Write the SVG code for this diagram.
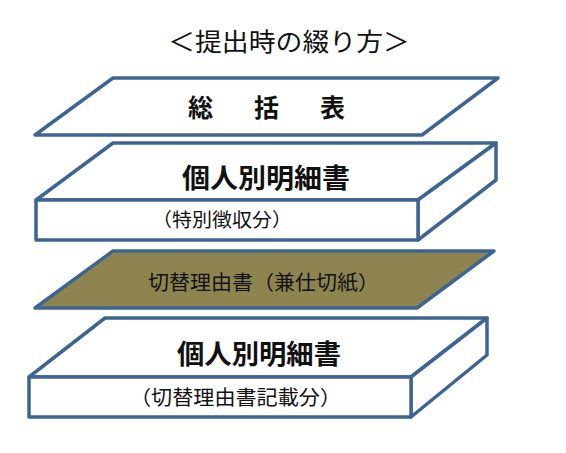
<svg xmlns="http://www.w3.org/2000/svg" width="566" height="453" viewBox="0 0 566 453">
<style>
.s{fill:#ffffff;stroke:#3E6592;stroke-width:3.5;stroke-linejoin:round}
.o{fill:#8E8450;stroke:#3E6592;stroke-width:3.5;stroke-linejoin:round}
text{font-family:"Noto Sans CJK JP","Noto Sans CJK SC",sans-serif;fill:#111111;text-anchor:middle}
.b{font-weight:bold}
</style>
<rect width="566" height="453" fill="#ffffff"/>
<g id="title">
<text x="289" y="51" font-size="25" textLength="242" lengthAdjust="spacingAndGlyphs">＜提出時の綴り方＞</text>
</g>
<g id="summary">
<polygon class="s" points="113,78 498,78 422,135 35,135"/>
<text class="b" x="266.5" y="117" font-size="25" textLength="157" lengthAdjust="spacing">総　括　表</text>
</g>
<g id="detail1">
<polygon class="s" points="113,143 496,143 418,200 36,200"/>
<polygon class="s" points="418,200 496,143 496,180 418,240"/>
<rect class="s" x="36" y="200" width="382" height="40"/>
<text class="b" x="266" y="188" font-size="27" textLength="168" lengthAdjust="spacingAndGlyphs">個人別明細書</text>
<text x="222" y="227" font-size="19" textLength="140" lengthAdjust="spacingAndGlyphs">（特別徴収分）</text>
</g>
<g id="divider">
<polygon class="o" points="113,251 494,251 417,308 35,308"/>
<text x="263.5" y="289.5" font-size="20" textLength="231" lengthAdjust="spacingAndGlyphs">切替理由書（兼仕切紙）</text>
</g>
<g id="detail2">
<polygon class="s" points="105,318 487,318 411,377 29,377"/>
<polygon class="s" points="411,377 487,318 487,355 411,417"/>
<rect class="s" x="29" y="377" width="382" height="40"/>
<text class="b" x="259" y="364" font-size="27" textLength="164" lengthAdjust="spacingAndGlyphs">個人別明細書</text>
<text x="235.5" y="404.5" font-size="20" textLength="211" lengthAdjust="spacingAndGlyphs">（切替理由書記載分）</text>
</g>
<g id="connectors"></g>
</svg>
